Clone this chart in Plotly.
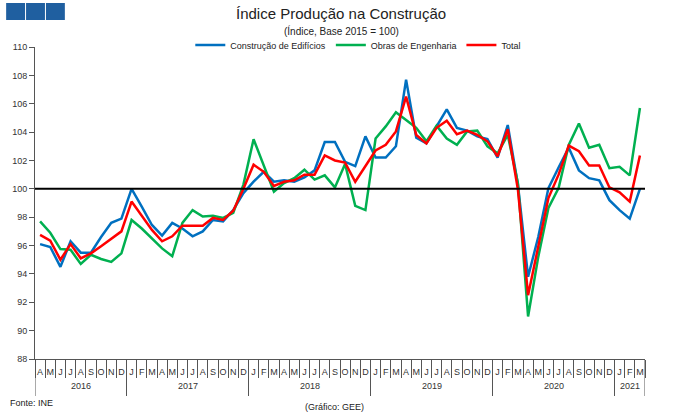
import plotly.graph_objects as go

# ---- data ----
years_seq = ["2016"] * 9 + ["2017"] * 12 + ["2018"] * 12 + ["2019"] * 12 + ["2020"] * 12 + ["2021"] * 3
month_letters = ["J", "F", "M", "A", "M", "J", "J", "A", "S", "O", "N", "D"]
start_month = 3  # April (0-based)

edificios = [96.1, 95.9, 94.5, 96.3, 95.5, 95.5, 96.6, 97.6, 97.9,
             100.0, 98.75, 97.45, 96.7, 97.6, 97.2, 96.65, 97.0, 97.8, 97.7, 98.5, 99.7,
             100.5, 101.2, 100.5, 100.6, 100.5, 100.8, 101.3, 103.3, 103.3, 101.9, 101.6, 103.7,
             102.2, 102.2, 103.0, 107.7, 103.6, 103.2, 104.4, 105.6, 104.3, 104.1, 103.7, 103.5,
             102.2, 104.5, 100.3, 93.8, 96.6, 100.05, 101.5, 102.9, 101.3, 100.75, 100.6, 99.2,
             98.5, 97.9, 100.0]
engenharia = [97.7, 96.9, 95.75, 95.7, 94.7, 95.35, 95.05, 94.85, 95.45,
              97.8, 97.2, 96.5, 95.8, 95.25, 97.6, 98.5, 98.05, 98.1, 97.95, 98.3, 100.3,
              103.5, 101.6, 99.8, 100.4, 100.75, 101.35, 100.65, 100.95, 100.1, 101.75, 98.8, 98.5,
              103.55, 104.4, 105.4, 104.85, 104.3, 103.35, 104.45, 103.55, 103.1, 104.05, 104.1, 103.0,
              102.5, 103.8, 100.4, 91.0, 95.2, 98.65, 100.05, 103.1, 104.6, 102.9, 103.1, 101.45,
              101.55, 100.95, 105.7]
total = [96.75, 96.35, 95.0, 96.1, 95.1, 95.45, 95.95, 96.45, 97.0,
         99.1, 98.1, 97.1, 96.3, 96.65, 97.4, 97.4, 97.4, 97.95, 97.8, 98.45, 100.0,
         101.7, 101.2, 100.2, 100.5, 100.6, 101.0, 101.0, 102.35, 102.0, 101.85, 100.5, 101.6,
         102.7, 103.1, 104.05, 106.5, 103.8, 103.2, 104.3, 104.8, 103.85, 104.1, 103.8, 103.35,
         102.3, 104.2, 99.95, 92.5, 95.9, 99.35, 101.0, 103.05, 102.65, 101.65, 101.65, 100.1,
         99.75, 99.1, 102.35]

n = len(years_seq)
xs = list(range(n))
month_text = [month_letters[(start_month + k) % 12] for k in xs]

# year groups
year_names, year_start, year_end = [], [], []
for k, yv in enumerate(years_seq):
    if not year_names or year_names[-1] != yv:
        year_names.append(yv)
        year_start.append(k)
        year_end.append(k)
    else:
        year_end[-1] = k

series = [
    ("Construção de Edifícios", edificios, "#0070C0"),
    ("Obras de Engenharia", engenharia, "#00B050"),
    ("Total", total, "#FF0000"),
]

FONT = "Liberation Sans, Arial, sans-serif"

fig = go.Figure()
for name, vals, col in series:
    fig.add_trace(go.Scatter(x=xs, y=vals, name=name, mode="lines",
                             line=dict(color=col, width=2.5)))

L, R, T, B = 32, 35, 47, 57
W, H = 680, 416
pw, ph = W - L - R, H - T - B

def px(x):
    return (x - L) / pw

def py(y):
    return (H - B - y) / ph

axis_col = "#555555"
txt_col = "#333333"
fig.update_layout(
    width=W, height=H, autosize=False,
    margin=dict(l=L, r=R, t=T, b=B),
    paper_bgcolor="white", plot_bgcolor="white",
    font=dict(family=FONT, size=9, color=txt_col),
    showlegend=True,
    legend=dict(orientation="h", x=0.53, xanchor="center", y=py(45), yanchor="middle",
                font=dict(size=9, color="#222222"), itemwidth=30,
                bgcolor="rgba(0,0,0,0)"),
    xaxis=dict(range=[-0.5, n - 0.5], showline=True, linecolor=axis_col, linewidth=1,
               tickmode="array", tickvals=xs, ticktext=month_text, ticks="",
               ticklabelstandoff=4, tickangle=0,
               minor=dict(tickmode="array", tickvals=[k - 0.5 for k in xs] + [n - 0.5],
                          ticks="outside", ticklen=18, tickcolor=axis_col, tickwidth=1,
                          showgrid=False),
               showgrid=False, zeroline=False,
               tickfont=dict(size=9, color=txt_col)),
    yaxis=dict(range=[88, 110], dtick=2, showline=True, linecolor=axis_col, linewidth=1,
               ticks="outside", ticklen=5, tickcolor=axis_col, showgrid=False,
               zeroline=False, tickfont=dict(size=9, color=txt_col)),
    yaxis2=dict(range=[88, 110], dtick=2, overlaying="y", side="right", anchor="x",
                showline=True, linecolor=axis_col, linewidth=1, ticks="outside",
                ticklen=5, tickcolor=axis_col, showgrid=False, zeroline=False,
                tickfont=dict(size=9, color=txt_col)),
)

# reference line at 100
fig.add_shape(type="line", xref="paper", yref="y", x0=0, x1=1, y0=100, y1=100,
              line=dict(color="black", width=2))

# year dividers and labels
for ys, ye, yn in zip(year_start, year_end, year_names):
    for xb in (ys - 0.5, ye + 0.5):
        fig.add_shape(type="line", xref="x", yref="paper", x0=xb, x1=xb,
                      y0=0, y1=py(396), line=dict(color=axis_col, width=1))
    fig.add_annotation(text=yn, xref="x", yref="paper", x=(ys + ye) / 2, y=py(386),
                       xanchor="center", yanchor="middle", showarrow=False,
                       font=dict(family=FONT, size=9, color=txt_col))

# logo squares
for x0, x1 in [(3, 22), (23, 42), (43, 62)]:
    fig.add_shape(type="rect", xref="paper", yref="paper",
                  x0=px(x0), x1=px(x1), y0=py(20), y1=py(3),
                  fillcolor="#1F5FA0", line=dict(width=0), layer="above")

fig.add_annotation(text="Índice Produção na Construção", xref="paper", yref="paper",
                   x=px(340), y=py(14), xanchor="center", yanchor="middle", showarrow=False,
                   font=dict(family=FONT, size=15, color="#222222"))
fig.add_annotation(text="(Índice, Base 2015 = 100)", xref="paper", yref="paper",
                   x=px(340), y=py(31), xanchor="center", yanchor="middle", showarrow=False,
                   font=dict(family=FONT, size=10, color="#222222"))
fig.add_annotation(text="Fonte: INE", xref="paper", yref="paper",
                   x=px(5), y=py(403), xanchor="left", yanchor="middle", showarrow=False,
                   font=dict(family=FONT, size=9, color="#222222"))
fig.add_annotation(text="(Gráfico: GEE)", xref="paper", yref="paper",
                   x=px(333), y=py(407), xanchor="center", yanchor="middle", showarrow=False,
                   font=dict(family=FONT, size=9, color="#222222"))

fig.write_html("out.html")
